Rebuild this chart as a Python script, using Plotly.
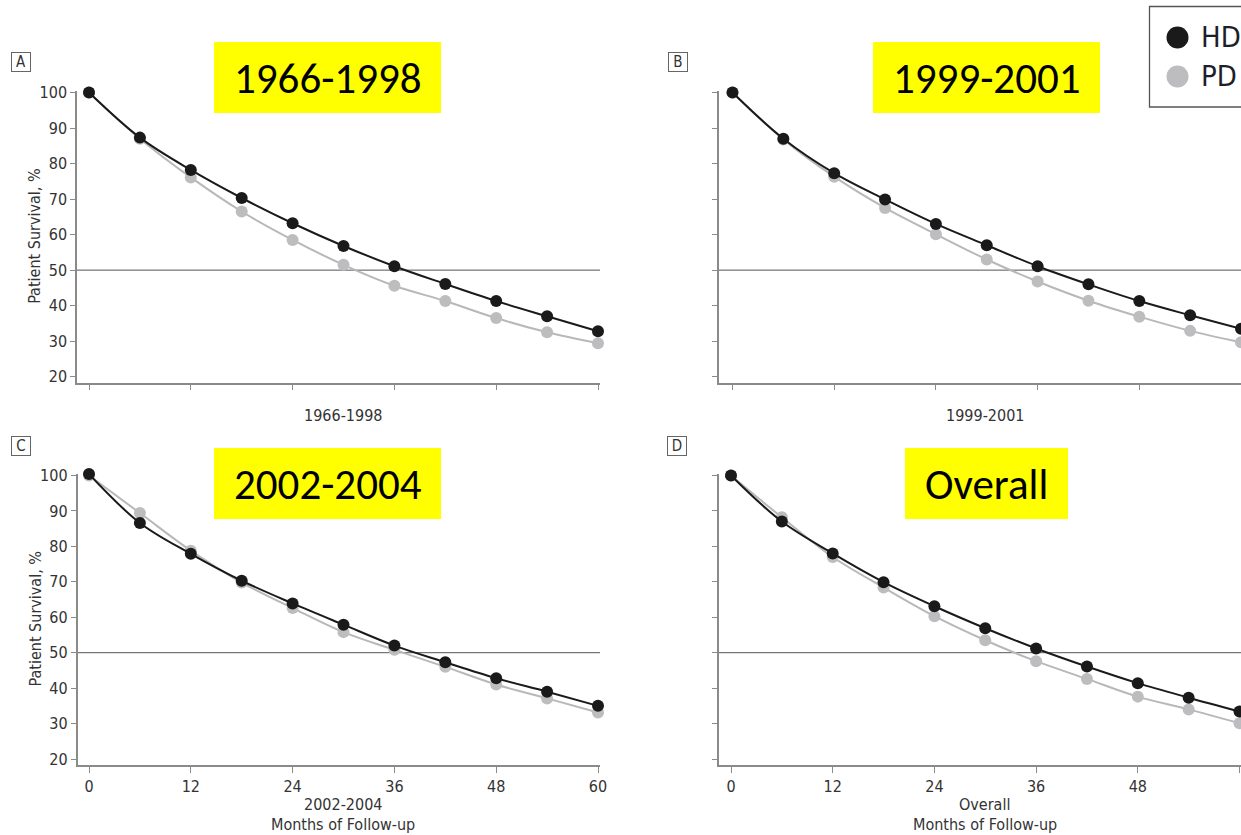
import plotly.graph_objects as go

# ---------------------------------------------------------------- data
months = [0, 6, 12, 18, 24, 30, 36, 42, 48, 54, 60]

hd_1966_1998 = [100.0, 87.3, 78.2, 70.3, 63.2, 56.8, 51.1, 46.1, 41.3, 37.0, 32.8]
pd_1966_1998 = [100.0, 87.0, 76.1, 66.5, 58.5, 51.5, 45.6, 41.3, 36.5, 32.5, 29.4]

hd_1999_2001 = [100.0, 87.0, 77.3, 69.9, 63.0, 57.0, 51.1, 46.0, 41.3, 37.3, 33.5]
pd_1999_2001 = [100.0, 86.8, 76.3, 67.5, 60.1, 53.0, 46.8, 41.4, 36.9, 32.9, 29.7]

hd_2002_2004 = [100.4, 86.6, 77.9, 70.3, 63.9, 57.9, 52.0, 47.3, 42.8, 39.0, 35.0]
pd_2002_2004 = [100.0, 89.4, 78.8, 69.8, 62.6, 55.8, 50.8, 46.0, 41.0, 37.1, 33.1]

hd_overall = [100.0, 87.0, 78.0, 69.9, 63.1, 56.9, 51.2, 46.1, 41.4, 37.3, 33.4]
pd_overall = [100.0, 88.2, 77.0, 68.4, 60.3, 53.5, 47.6, 42.6, 37.6, 34.0, 30.1]

period_labels = ["1966-1998", "1999-2001", "2002-2004", "Overall"]
panel_letters = ["A", "B", "C", "D"]
series_names = ["HD", "PD"]
x_ticks = [0, 12, 24, 36, 48, 60]
y_ticks = [20, 30, 40, 50, 60, 70, 80, 90, 100]
reference_level = 50
x_axis_name = "Months of Follow-up"
y_axis_name = "Patient Survival, %"

# ---------------------------------------------------------------- styling
W, H = 1241, 835
NARROW = "Liberation Sans Narrow, Arial Narrow, DejaVu Sans Condensed, Roboto Condensed, sans-serif"
CALLOUT = "Carlito, Calibri, Lato, Open Sans, sans-serif"
TEXT = "#333333"
AXIS = "#8a8a8a"
HD_COLOR = "#1a1a1a"
PD_COLOR = "#bdbdc0"
PD_LINE = "#b8b8b8"
YELLOW = "#ffff00"


def px_x(px):
    return px / W


def px_y(py):
    return 1 - py / H


# pixel geometry of each panel: axis box, and where month 0/60 and 100%/20% fall
panels = [
    dict(hd=hd_1966_1998, pd=pd_1966_1998, box=(77, 600, 91, 382.7),
         m0=89, m60=598, v100=92.5, v20=376.7, labels_x=False, labels_y=True,
         letter=(20.5, 62.5), callout=(214, 441, 42, 113), title_x=343, title_y=415),
    dict(hd=hd_1999_2001, pd=pd_1999_2001, box=(719, 1241, 91, 382.7),
         m0=732.5, m60=1241, v100=92.5, v20=376.7, labels_x=False, labels_y=False,
         letter=(678, 62.5), callout=(873, 1100, 42, 113), title_x=985, title_y=415),
    dict(hd=hd_2002_2004, pd=pd_2002_2004, box=(77.5, 600, 474, 765),
         m0=89, m60=598, v100=475.5, v20=759, labels_x=True, labels_y=True,
         letter=(20.5, 445.5), callout=(214, 441, 448, 519), title_x=343, title_y=804),
    dict(hd=hd_overall, pd=pd_overall, box=(719, 1241, 474, 765),
         m0=731, m60=1239.5, v100=475.5, v20=759, labels_x=True, labels_y=False,
         letter=(676.5, 445.5), callout=(905, 1068, 448, 519), title_x=985, title_y=804),
]

fig = go.Figure()
shapes = []
annotations = []

for i, (p, period, letter) in enumerate(zip(panels, period_labels, panel_letters), start=1):
    xa = "xaxis" if i == 1 else f"xaxis{i}"
    ya = "yaxis" if i == 1 else f"yaxis{i}"
    xref = "x" if i == 1 else f"x{i}"
    yref = "y" if i == 1 else f"y{i}"

    x0, x1, ytop, ybot = p["box"]
    ppm = (p["m60"] - p["m0"]) / 60.0
    ppu = (p["v20"] - p["v100"]) / 80.0
    x_range = [(x0 - p["m0"]) / ppm, (x1 - p["m0"]) / ppm]
    y_range = [100 - (ybot - p["v100"]) / ppu, 100 + (p["v100"] - ytop) / ppu]

    fig.layout[xa] = dict(
        domain=[px_x(x0), min(1.0, px_x(x1))], range=x_range, anchor=yref,
        tickvals=x_ticks, ticks="outside", ticklen=6, tickwidth=1, tickcolor=AXIS,
        showline=True, linecolor=AXIS, linewidth=1.5, showgrid=False, zeroline=False,
        showticklabels=p["labels_x"], tickfont=dict(family=NARROW, size=16, color=TEXT),
        fixedrange=True,
    )
    fig.layout[ya] = dict(
        domain=[px_y(ybot), px_y(ytop)], range=y_range, anchor=xref,
        tickvals=y_ticks, ticks="outside", ticklen=5, tickwidth=1, tickcolor=AXIS,
        showline=True, linecolor=AXIS, linewidth=1.5, showgrid=False, zeroline=False,
        showticklabels=p["labels_y"], tickfont=dict(family=NARROW, size=16, color=TEXT),
        fixedrange=True,
    )

    # 50% reference line across the panel
    shapes.append(dict(type="line", xref=f"{xref} domain", yref=yref, x0=0, x1=1,
                       y0=reference_level, y1=reference_level,
                       line=dict(color="#555555", width=1), layer="below"))

    # survival curves: PD underneath, HD on top
    fig.add_trace(go.Scatter(
        x=months, y=p["pd"], name=series_names[1], mode="lines+markers",
        line=dict(color=PD_LINE, width=2, shape="spline", smoothing=1),
        marker=dict(color=PD_COLOR, size=12), cliponaxis=False,
        xaxis=xref, yaxis=yref, showlegend=False))
    fig.add_trace(go.Scatter(
        x=months, y=p["hd"], name=series_names[0], mode="lines+markers",
        line=dict(color=HD_COLOR, width=2, shape="spline", smoothing=1),
        marker=dict(color=HD_COLOR, size=12), cliponaxis=False,
        xaxis=xref, yaxis=yref, showlegend=False))

    # panel letter in a small box
    lx, ly = p["letter"]
    annotations.append(dict(x=px_x(lx), y=px_y(ly), xref="paper", yref="paper",
                            text=letter, showarrow=False, xanchor="center", yanchor="middle",
                            width=16, height=16, borderpad=1, bordercolor="#666666",
                            borderwidth=1, font=dict(family=NARROW, size=15, color=TEXT)))

    # yellow period callout
    cx0, cx1, cy0, cy1 = p["callout"]
    shapes.append(dict(type="rect", xref="paper", yref="paper",
                       x0=px_x(cx0), x1=px_x(cx1), y0=px_y(cy1), y1=px_y(cy0),
                       fillcolor=YELLOW, line=dict(width=0), layer="above"))
    annotations.append(dict(x=px_x((cx0 + cx1) / 2), y=px_y((cy0 + cy1) / 2 + 1),
                            xref="paper", yref="paper", text=period, showarrow=False,
                            xanchor="center", yanchor="middle",
                            font=dict(family=CALLOUT, size=43, color="#000000")))

    # period label under the x axis (plus axis name on the bottom row)
    annotations.append(dict(x=px_x(p["title_x"]), y=px_y(p["title_y"]), xref="paper",
                            yref="paper", text=period, showarrow=False,
                            xanchor="center", yanchor="middle",
                            font=dict(family=NARROW, size=16, color=TEXT)))
    if p["labels_x"]:
        annotations.append(dict(x=px_x(p["title_x"]), y=px_y(p["title_y"] + 20),
                                xref="paper", yref="paper", text=x_axis_name,
                                showarrow=False, xanchor="center", yanchor="middle",
                                font=dict(family=NARROW, size=16, color=TEXT)))
    if p["labels_y"]:
        annotations.append(dict(x=px_x(35), y=px_y((ytop + ybot) / 2), xref="paper",
                                yref="paper", text=y_axis_name, showarrow=False,
                                textangle=-90, xanchor="center", yanchor="middle",
                                font=dict(family=NARROW, size=16, color=TEXT)))

# legend box in the top-right corner
shapes.append(dict(type="rect", xref="paper", yref="paper",
                   x0=px_x(1149.5), x1=px_x(1260), y0=px_y(107), y1=px_y(6.5),
                   fillcolor="white", line=dict(color="#555555", width=1.3)))
for name, color, cy in [(series_names[0], HD_COLOR, 37.5), (series_names[1], PD_COLOR, 76.5)]:
    shapes.append(dict(type="circle", xref="paper", yref="paper",
                       x0=px_x(1166.5), x1=px_x(1188.5), y0=px_y(cy + 11), y1=px_y(cy - 11),
                       fillcolor=color, line=dict(width=0)))
    annotations.append(dict(x=px_x(1199), y=px_y(cy), xref="paper", yref="paper",
                            text=name, showarrow=False, xanchor="left", yanchor="middle",
                            font=dict(family=NARROW, size=29, color="#1e1e2a")))

fig.update_layout(
    width=W, height=H,
    margin=dict(l=0, r=0, t=0, b=0, pad=0, autoexpand=False),
    paper_bgcolor="white", plot_bgcolor="white",
    shapes=shapes, annotations=annotations,
    showlegend=False,
)

fig.write_html("out.html", config=dict(displayModeBar=False))
